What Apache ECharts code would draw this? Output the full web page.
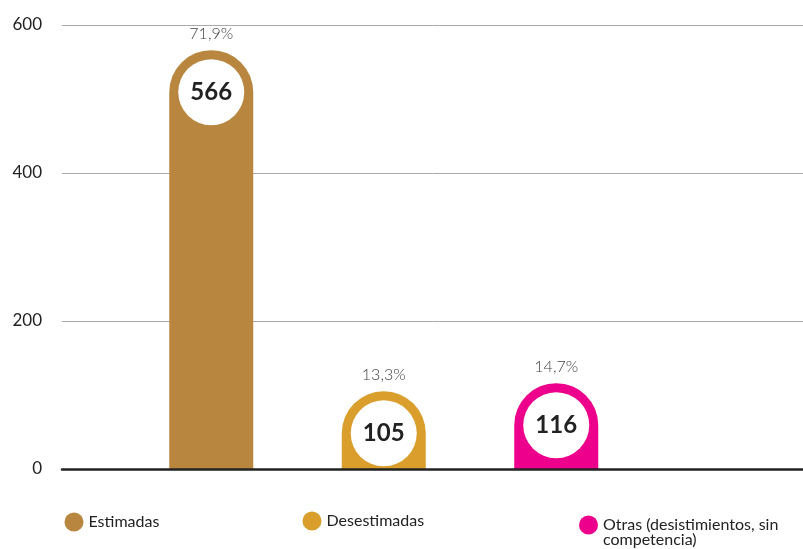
<!DOCTYPE html>
<html>
<head>
<meta charset="utf-8">
<script src="https://cdn.jsdelivr.net/npm/echarts@6/dist/echarts.min.js"></script>
<style>html,body{margin:0;padding:0;background:#fff;}#c{width:803px;height:549px;}</style>
</head>
<body>
<div id="c"></div>
<script>
const categories = ['Estimadas', 'Desestimadas', 'Otras (desistimientos, sin competencia)'];
const legendLines = [['Estimadas'], ['Desestimadas'], ['Otras (desistimientos, sin', 'competencia)']];
const values = [566, 105, 116];
const percents = ['71,9%', '13,3%', '14,7%'];
const colors = ['#B98640', '#D99E2B', '#EC008C'];
const yTicks = [0, 200, 400, 600];

const FONT = 'Lato, "Open Sans", sans-serif';
const chart = echarts.init(document.getElementById('c'));

const barSeries = categories.map((name, i) => ({
  type: 'bar',
  name: name,
  xAxisIndex: 1,
  yAxisIndex: 1,
  barWidth: 84,
  barGap: '-100%',
  data: categories.map((c, j) => j === i ? values[i] : '-'),
  itemStyle: { color: colors[i], borderRadius: [42, 42, 0, 0] },
  label: {
    show: true,
    position: 'top',
    distance: 8,
    formatter: () => percents[i],
    fontFamily: FONT,
    fontWeight: 300,
    fontSize: 16,
    color: '#444'
  },
  z: 2
}));

const legendPos = [[64.5, 512.5], [302.5, 511.5], [579, 515.5]];
const legends = categories.map((name, i) => ({
  data: [name],
  left: legendPos[i][0],
  top: legendPos[i][1],
  padding: 0,
  icon: 'circle',
  itemWidth: 19,
  itemHeight: 19,
  orient: 'horizontal',
  selectedMode: false,
  formatter: () => legendLines[i][0],
  textStyle: { fontFamily: FONT, fontSize: 16, color: '#222' }
}));

chart.setOption({
  animation: false,
  backgroundColor: '#fff',
  grid: [
    { left: 62, right: 0, top: 25, height: 444 },
    { left: 125, width: 517.5, top: 25, height: 444 }
  ],
  legend: legends,
  graphic: [{
    type: 'text',
    left: 603,
    top: 532,
    style: { text: legendLines[2][1], fontFamily: FONT, fontSize: 16, fill: '#222' }
  }],
  xAxis: [
    { type: 'category', gridIndex: 0, data: [''], z: 5,
      axisLine: { lineStyle: { color: '#222', width: 2.5 } },
      axisTick: { show: false }, axisLabel: { show: false } },
    { type: 'category', gridIndex: 1, data: categories,
      axisLine: { show: false }, axisTick: { show: false }, axisLabel: { show: false } }
  ],
  yAxis: [
    { type: 'value', gridIndex: 0, min: 0, max: 600, interval: 200,
      axisLine: { show: false }, axisTick: { show: false },
      axisLabel: { margin: 20, fontFamily: FONT, fontSize: 17, color: '#222',
        formatter: v => yTicks.includes(v) ? String(v) : '' },
      splitLine: { lineStyle: { color: '#aaa', width: 1 } } },
    { type: 'value', gridIndex: 1, min: 0, max: 600, interval: 200, show: false,
      splitLine: { show: false } }
  ],
  series: barSeries.concat([{
    type: 'scatter',
    name: 'circles',
    xAxisIndex: 1,
    yAxisIndex: 1,
    data: values.map((v, i) => [i, v]),
    symbol: 'circle',
    symbolSize: 66,
    symbolOffset: [0, 42],
    itemStyle: { color: '#fff', opacity: 1 },
    label: {
      show: true,
      position: 'inside',
      formatter: p => String(values[p.dataIndex]),
      fontFamily: FONT,
      fontWeight: 'bold',
      fontSize: 24,
      color: '#222'
    },
    z: 4
  }])
});
</script>
</body>
</html>
